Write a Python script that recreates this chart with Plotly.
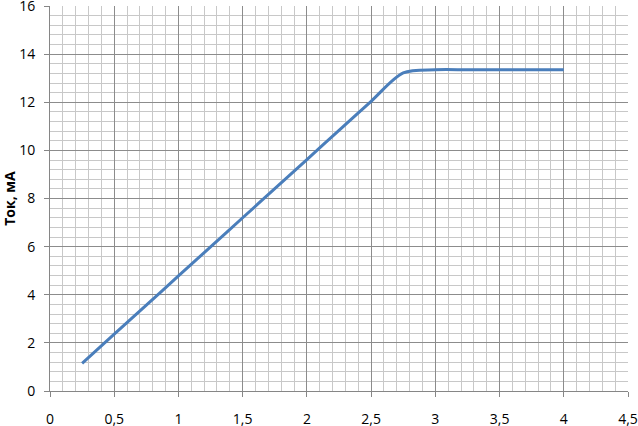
import plotly.graph_objects as go

# voltage (x) and current (y)
voltage = [0.25, 0.5, 0.75, 1.0, 1.25, 1.5, 1.75, 2.0, 2.25, 2.5, 2.75, 3.0, 3.25, 3.5, 3.75, 4.0]
current = [1.15, 2.36, 3.57, 4.78, 5.99, 7.2, 8.41, 9.62, 10.83, 12.04, 13.22, 13.35, 13.35, 13.35, 13.35, 13.35]

x_ticks = [0, 0.5, 1, 1.5, 2, 2.5, 3, 3.5, 4, 4.5]
x_labels = ["0", "0,5", "1", "1,5", "2", "2,5", "3", "3,5", "4", "4,5"]
y_ticks = [0, 2, 4, 6, 8, 10, 12, 14, 16]

fig = go.Figure(
    go.Scatter(
        x=voltage,
        y=current,
        mode="lines",
        line=dict(color="#4A7EBB", width=3, shape="spline", smoothing=0.85),
    )
)

fig.update_layout(
    width=638,
    height=426,
    margin=dict(l=50, r=10, t=6, b=35),
    plot_bgcolor="white",
    paper_bgcolor="white",
    showlegend=False,
    separators=", ",
    font=dict(family="Open Sans", size=14, color="black"),
)

fig.update_xaxes(
    range=[0, 4.5],
    tickmode="array",
    tickvals=x_ticks,
    ticktext=x_labels,
    automargin=False,
    ticklabeloverflow="allow",
    showgrid=True,
    gridcolor="#8c8c8c",
    gridwidth=1,
    minor=dict(dtick=0.1, showgrid=True, gridcolor="#c8c8c8", gridwidth=1),
    showline=True,
    linecolor="#868686",
    ticks="outside",
    ticklen=5,
    tickcolor="#868686",
    ticklabelstandoff=10,
    zeroline=False,
)
fig.update_yaxes(
    range=[0, 16],
    tickmode="array",
    tickvals=y_ticks,
    automargin=False,
    ticklabeloverflow="allow",
    showgrid=True,
    gridcolor="#8c8c8c",
    gridwidth=1,
    minor=dict(dtick=0.4, showgrid=True, gridcolor="#c8c8c8", gridwidth=1),
    showline=True,
    linecolor="#868686",
    ticks="outside",
    ticklen=5,
    tickcolor="#868686",
    ticklabelstandoff=6,
    zeroline=False,
    title=dict(text="<b>Ток, мА</b>", standoff=6, font=dict(size=14)),
)

# the page has a default 8px body margin; drop it so the chart sits at 0,0
fig.write_html(
    "out.html",
    config={"displayModeBar": False},
    post_script="document.body.style.margin='0';",
)
